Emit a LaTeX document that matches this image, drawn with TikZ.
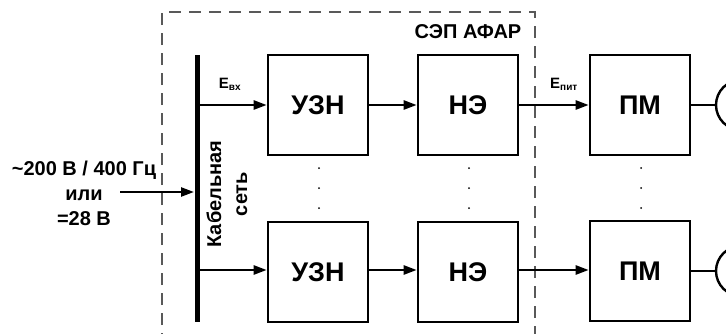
\documentclass[tikz,border=0pt]{standalone}
\usepackage{fontspec}
\setmainfont{Liberation Sans}
\usetikzlibrary{arrows.meta}
\begin{document}
\begin{tikzpicture}[x=1pt,y=-1pt,
  blk/.style={draw,line width=2.6pt,minimum width=100pt,minimum height=100pt,font=\bfseries\fontsize{27}{27}\selectfont},
  arr/.style={line width=2.4pt,-{Triangle[length=13pt,width=9pt]}},
  ln/.style={line width=2.4pt},
  lbl/.style={font=\bfseries\fontsize{20}{22}\selectfont},
  elbl/.style={font=\bfseries\fontsize{15}{15}\selectfont},
  dotc/.style={circle,fill,inner sep=0pt,minimum size=2pt}]
\useasboundingbox (0,0) rectangle (726,333);
\clip (0,0) rectangle (726,333);
\fill[white] (0,0) rectangle (726,333);
% dashed frame
\draw[gray!70!black,line width=1.5pt,dash pattern=on 12pt off 8pt] (162,345) -- (162,12) -- (535,12) -- (535,345);
\node[lbl] (sep) at (468,32) {СЭП АФАР};
% bus
\coordinate (busT) at (197,55);
\coordinate (busB) at (197,322);
\draw[line width=5pt] (busT) -- (busB);
\node[lbl,rotate=90,align=center,font=\bfseries\fontsize{20}{26}\selectfont] (kab) at (227,194) {Кабельная\\сеть};
% input
\node[lbl,align=center,font=\bfseries\fontsize{20}{25}\selectfont] (inp) at (84,193) {\textasciitilde200 В / 400 Гц\\или\\=28 В};
\coordinate (inS) at (120,192);
\coordinate (inE) at (194,192);
\draw[arr] (inS) -- (inE);
% blocks
\node[blk] (u1) at (318,105) {УЗН};
\node[blk] (u2) at (318,272) {УЗН};
\node[blk] (n1) at (468,105) {НЭ};
\node[blk] (n2) at (468,272) {НЭ};
\node[blk] (p1) at (640,105) {ПМ};
\node[blk] (p2) at (640,271) {ПМ};
% circles
\node[draw,circle,line width=2.4pt,minimum size=50pt,inner sep=0pt] (c1) at (741,105) {};
\node[draw,circle,line width=2.4pt,minimum size=50pt,inner sep=0pt] (c2) at (741,271) {};
% connections
\coordinate (b1) at (197,105);
\coordinate (b2) at (197,270);
\draw[arr] (b1) -- (u1.west);
\draw[arr] (b2) -- (b2 -| u2.west);
\draw[arr] (u1.east) -- (n1.west);
\draw[arr] (u2.east |- b2) -- (n2.west |- b2);
\draw[arr] (n1.east) -- (p1.west);
\draw[arr] (n2.east |- b2) -- (p2.west |- b2);
\draw[ln] (p1.east) -- (c1.west);
\draw[ln] (p2.east) -- (c2.west);
% labels
\node[elbl] (evx) at (230,84) {E\textsubscript{\fontsize{10}{10}\selectfont вх}};
\node[elbl] (epit) at (564,84) {E\textsubscript{\fontsize{10}{10}\selectfont пит}};
% dots
\foreach \x/\n in {319/a,469/b,641/c}{
  \foreach \y in {168,188,208}{
    \node[dotc] (d\n\y) at (\x,\y) {};
  }
}
\end{tikzpicture}
\end{document}
